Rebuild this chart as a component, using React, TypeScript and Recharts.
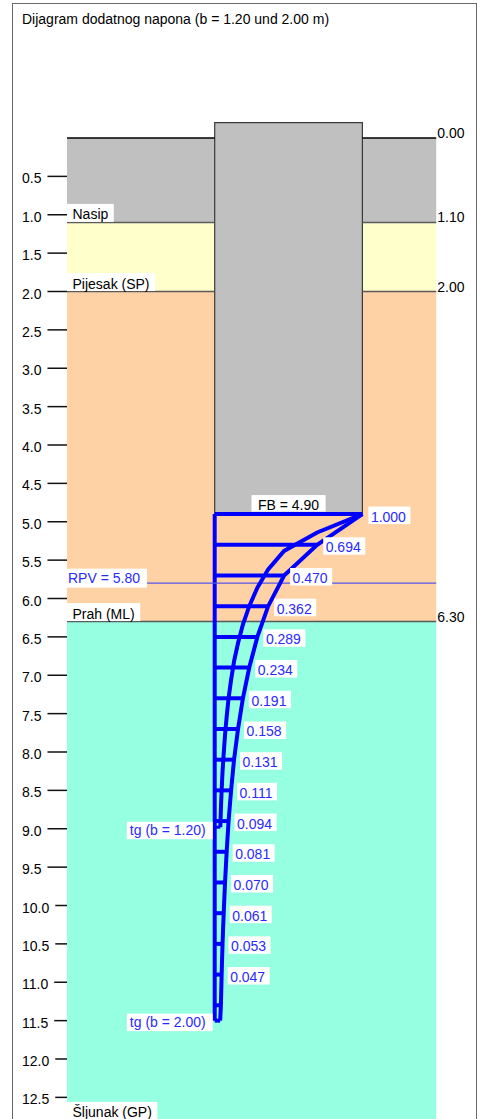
import React from "react";
import {
  ComposedChart,
  XAxis,
  YAxis,
  ReferenceArea,
  ReferenceLine,
  Scatter,
} from "recharts";

const FONT = "'Liberation Sans', Arial, sans-serif";
const FONT_SIZE = 14;
const BLUE = "#0000ff";
const TEXT_BLUE = "#2a2aff";

// depth axis (m)
const depthTicks = [
  0.5, 1.0, 1.5, 2.0, 2.5, 3.0, 3.5, 4.0, 4.5, 5.0, 5.5, 6.0, 6.5, 7.0, 7.5,
  8.0, 8.5, 9.0, 9.5, 10.0, 10.5, 11.0, 11.5, 12.0, 12.5,
];

// soil profile
const layerNames = ["Nasip", "Pijesak (SP)", "Prah (ML)", "Šljunak (GP)"];
const layerTops = [0.0, 1.1, 2.0, 6.3];
const layerBottoms = [1.1, 2.0, 6.3, 12.8];
const layerColors = ["#c0c0c0", "#ffffcc", "#ffd2a6", "#96ffe2"];
const boundaryLabels = ["0.00", "1.10", "2.00", "6.30"];

const profileLeft = -1;
const profileRight = 1.5;
const foundationTop = -0.2;
const foundationBase = 4.9; // FB
const waterLevel = 5.8; // RPV

// additional stress factor, b = 2.00 (with rungs)
const outerDepths = [
  4.9, 5.3, 5.7, 6.1, 6.5, 6.9, 7.3, 7.7, 8.1, 8.5, 8.9, 9.3, 9.7, 10.1, 10.5,
  10.9, 11.3, 11.5,
];
const outerValues = [
  1.0, 0.694, 0.47, 0.362, 0.289, 0.234, 0.191, 0.158, 0.131, 0.111, 0.094,
  0.081, 0.07, 0.061, 0.053, 0.047, 0.042, 0.037,
];
const outerLabels = [
  "1.000", "0.694", "0.470", "0.362", "0.289", "0.234", "0.191", "0.158",
  "0.131", "0.111", "0.094", "0.081", "0.070", "0.061", "0.053", "0.047",
];

// additional stress factor, b = 1.20
const innerDepths = [
  4.9, 5.14, 5.38, 5.62, 5.86, 6.1, 6.34, 6.58, 6.82, 7.06, 7.3, 7.54, 7.78,
  8.02, 8.26, 8.5, 8.74, 8.98,
];
const innerValues = [
  1.0, 0.694, 0.47, 0.362, 0.289, 0.234, 0.191, 0.158, 0.131, 0.111, 0.094,
  0.081, 0.07, 0.061, 0.053, 0.047, 0.042, 0.038,
];

// limit depths
const tgDepths = [9.0, 11.5];
const tgLabels = ["tg (b = 1.20)", "tg (b = 2.00)"];

let ctx: CanvasRenderingContext2D | null = null;
const textWidth = (s: string) => {
  if (!ctx) ctx = document.createElement("canvas").getContext("2d");
  if (!ctx) return s.length * 7.5;
  ctx.font = `${FONT_SIZE}px 'Liberation Sans'`;
  return ctx.measureText(s).width;
};

const txt = {
  fontFamily: FONT,
  fontSize: FONT_SIZE,
};

const DepthTick = (props: any) => {
  const { x, y, payload } = props;
  const label = Number(payload.value).toFixed(1);
  const left = x - 45;
  const w = textWidth(label);
  return (
    <g>
      <text x={left} y={y + 7} {...txt} fill="#000">
        {label}
      </text>
      <line x1={left + w + 6} x2={x} y1={y} y2={y} stroke="#111" strokeWidth={1.5} />
    </g>
  );
};

const BoundaryText = (props: any) => {
  const { cx, cy, payload } = props;
  return (
    <text x={cx + 1} y={cy} {...txt} fill="#000">
      {payload.text}
    </text>
  );
};

const LayerName = (props: any) => {
  const { cx, cy, payload } = props;
  const w = textWidth(payload.text);
  return (
    <g>
      <rect x={cx} y={cy - 18.5} width={w + 11} height={18} fill="#fff" />
      <text x={cx + 5.5} y={cy - 3} {...txt} fill="#000">
        {payload.text}
      </text>
    </g>
  );
};

const ValueLabel = (props: any) => {
  const { cx, cy, payload } = props;
  const w = textWidth(payload.text);
  return (
    <g>
      <rect x={cx + 6} y={cy - 7.5} width={w + 7} height={17.5} fill="#fff" />
      <text x={cx + 8.5} y={cy + 7.5} {...txt} fill={TEXT_BLUE}>
        {payload.text}
      </text>
    </g>
  );
};

const TgLabel = (props: any) => {
  const { cx, cy, payload } = props;
  const w = textWidth(payload.text);
  return (
    <g>
      <rect x={cx - w - 12} y={cy - 7} width={w + 10} height={17.5} fill="#fff" />
      <text x={cx - w - 9} y={cy + 6.5} {...txt} fill={TEXT_BLUE}>
        {payload.text}
      </text>
    </g>
  );
};

const RpvLabel = (props: any) => {
  const { cx, cy, payload } = props;
  const w = textWidth(payload.text);
  return (
    <g>
      <rect x={cx} y={cy - 14.5} width={w + 8} height={19} fill="#fff" />
      <text x={cx + 1} y={cy} {...txt} fill={TEXT_BLUE}>
        {payload.text}
      </text>
    </g>
  );
};

const FbLabel = (props: any) => {
  const { cx, cy, payload } = props;
  const w = textWidth(payload.text);
  return (
    <g>
      <rect x={cx - w / 2 - 6.5} y={cy - 19} width={w + 13} height={16.5} fill="#fff" />
      <text x={cx} y={cy - 4} textAnchor="middle" {...txt} fill="#000">
        {payload.text}
      </text>
    </g>
  );
};

const noShape = () => <g />;

// horizontal line across the profile, broken where the foundation block sits
const profileSegments = (depth: number) =>
  depth < foundationBase
    ? [
        [profileLeft, 0],
        [1, profileRight],
      ]
    : [[profileLeft, profileRight]];

export default function App() {
  const outerCurve = outerDepths.map((d, i) => ({ x: outerValues[i], y: d }));
  const innerCurve = innerDepths.map((d, i) => ({ x: innerValues[i], y: d }));
  const valueLabels = outerLabels.map((t, i) => ({
    x: outerValues[i],
    y: outerDepths[i],
    text: t,
  }));
  const boundaryData = layerTops.map((t, i) => ({
    x: profileRight,
    y: t,
    text: boundaryLabels[i],
  }));
  const layerNameData = layerBottoms.map((b, i) => ({
    x: profileLeft,
    y: b,
    text: layerNames[i],
  }));
  const tgData = tgDepths.map((d, i) => ({ x: 0, y: d, text: tgLabels[i] }));
  const innerEnd = innerCurve[innerCurve.length - 1];
  const outerEnd = outerCurve[outerCurve.length - 1];
  const waterLine = [
    { x: profileLeft, y: waterLevel },
    { x: profileRight, y: waterLevel },
  ];

  return (
    <div
      style={{
        position: "absolute",
        left: 0,
        top: 0,
        width: 477,
        height: 1119,
        overflow: "hidden",
        background: "#fff",
      }}
    >
      <div
        style={{
          position: "absolute",
          left: 12,
          top: 3,
          width: 465,
          height: 1300,
          border: "1px solid #6a6a6a",
          boxSizing: "border-box",
        }}
      />
      <div style={{ position: "absolute", left: 0, top: 0 }}>
        <ComposedChart
          width={477}
          height={1125}
          margin={{ top: 3.69, right: 0, bottom: 4.6, left: 12 }}
        >
          <XAxis type="number" dataKey="x" domain={[-1, 1.776]} hide allowDataOverflow />
          <YAxis
            type="number"
            dataKey="y"
            domain={[-1.75, 12.8]}
            reversed
            ticks={depthTicks}
            interval={0}
            width={55}
            axisLine={false}
            tickLine={false}
            tickSize={0}
            tickMargin={0}
            tick={<DepthTick />}
            allowDataOverflow
          />
          {layerTops.map((t, i) => (
            <ReferenceArea
              key={`layer-${i}`}
              x1={profileLeft}
              x2={profileRight}
              y1={t}
              y2={layerBottoms[i]}
              fill={layerColors[i]}
              fillOpacity={1}
              stroke="none"
              ifOverflow="hidden"
            />
          ))}
          <ReferenceArea
            x1={0}
            x2={1}
            y1={foundationTop}
            y2={foundationBase}
            fill="#c0c0c0"
            fillOpacity={1}
            stroke="#3a3a3a"
            strokeWidth={1.2}
          />
          {layerTops.map((t, i) =>
            profileSegments(t).map(([a, b], j) => (
              <ReferenceLine
                key={`bound-${i}-${j}`}
                segment={[
                  { x: a, y: t },
                  { x: b, y: t },
                ]}
                stroke={i === 0 ? "#000" : "#5a5a5a"}
                strokeWidth={1.5}
              />
            )),
          )}
          <ReferenceLine
            segment={[
              { x: 0, y: foundationBase },
              { x: 0, y: outerEnd.y },
            ]}
            stroke={BLUE}
            strokeWidth={4}
          />
          {outerCurve.map((p, i) => (
            <ReferenceLine
              key={`rung-${i}`}
              segment={[
                { x: 0, y: p.y },
                { x: p.x, y: p.y },
              ]}
              stroke={BLUE}
              strokeWidth={4}
            />
          ))}
          <ReferenceLine
            segment={[
              { x: 0, y: innerEnd.y },
              { x: innerEnd.x, y: innerEnd.y },
            ]}
            stroke={BLUE}
            strokeWidth={3}
          />
          <Scatter
            data={waterLine}
            line={{ stroke: "#5555e8", strokeWidth: 1.2 }}
            shape={noShape}
            isAnimationActive={false}
          />
          <Scatter
            data={innerCurve}
            line={{ stroke: BLUE, strokeWidth: 4 }}
            shape={noShape}
            isAnimationActive={false}
          />
          <Scatter
            data={outerCurve}
            line={{ stroke: BLUE, strokeWidth: 4 }}
            shape={noShape}
            isAnimationActive={false}
          />
          <Scatter data={boundaryData} shape={<BoundaryText />} isAnimationActive={false} />
          <Scatter data={layerNameData} shape={<LayerName />} isAnimationActive={false} />
          <Scatter
            data={[{ x: profileLeft, y: waterLevel, text: `RPV = ${waterLevel.toFixed(2)}` }]}
            shape={<RpvLabel />}
            isAnimationActive={false}
          />
          <Scatter
            data={[{ x: 0.5, y: foundationBase, text: `FB = ${foundationBase.toFixed(2)}` }]}
            shape={<FbLabel />}
            isAnimationActive={false}
          />
          <Scatter data={valueLabels} shape={<ValueLabel />} isAnimationActive={false} />
          <Scatter data={tgData} shape={<TgLabel />} isAnimationActive={false} />
        </ComposedChart>
      </div>
      <div
        style={{
          position: "absolute",
          left: 22,
          top: 11,
          fontFamily: FONT,
          fontSize: FONT_SIZE,
          lineHeight: "16px",
          color: "#000",
          whiteSpace: "nowrap",
        }}
      >
        Dijagram dodatnog napona (b = 1.20 und 2.00 m)
      </div>
    </div>
  );
}
